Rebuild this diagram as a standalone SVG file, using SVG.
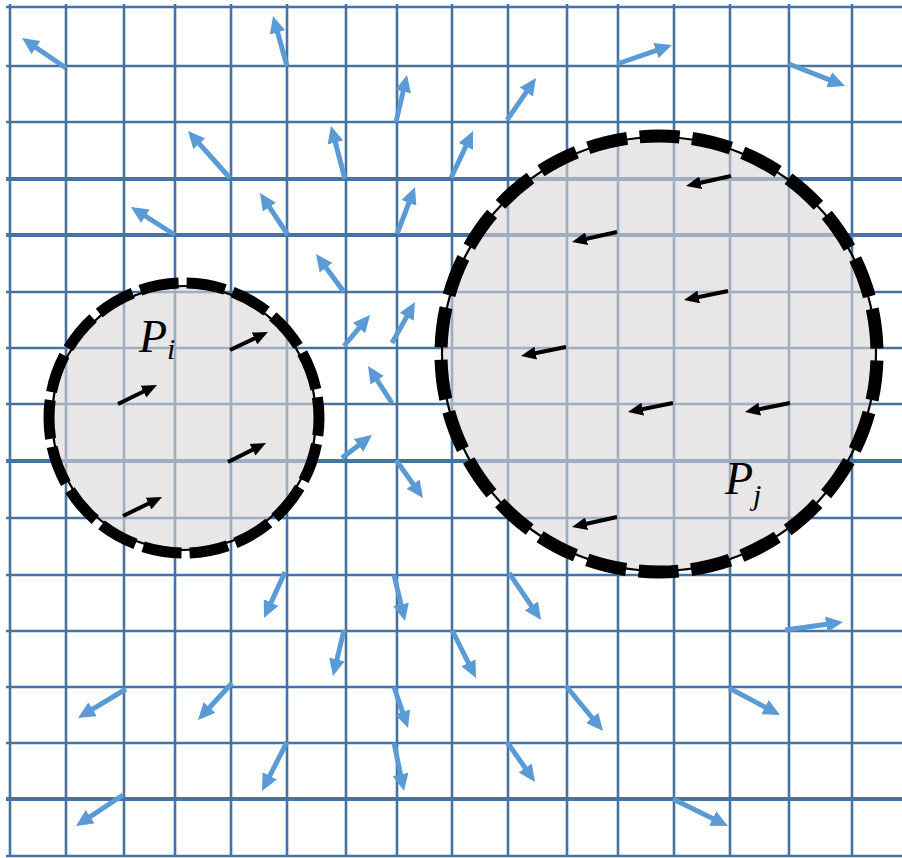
<svg xmlns="http://www.w3.org/2000/svg" width="902" height="858" viewBox="0 0 902 858">
<style>
.g{stroke:#46739f;stroke-width:2.6;fill:none}
.gt{stroke:#46739f;stroke-width:3.8;fill:none}
.ba{stroke:#5b9bd5;stroke-width:5;fill:none;stroke-dasharray:85 100;marker-end:url(#hb)}
.ka{stroke:#000;stroke-width:4;fill:none;stroke-dasharray:80 100;marker-end:url(#hk)}
.fill{fill:#d8d5d6;fill-opacity:0.6;stroke:#000;stroke-width:2.2}
.lbl{font-family:"Liberation Serif","DejaVu Serif",serif;font-style:italic;fill:#000}
</style>
<defs>
<marker id="hb" markerUnits="userSpaceOnUse" viewBox="0 0 17 16" refX="17" refY="8" markerWidth="17" markerHeight="16" orient="auto"><path d="M0,0 L17,8 L0,16 z" fill="#5b9bd5"/></marker>
<marker id="hk" markerUnits="userSpaceOnUse" viewBox="0 0 15 13" refX="15" refY="6.5" markerWidth="15" markerHeight="13" orient="auto"><path d="M0,0 L15,6.5 L0,13 z" fill="#000"/></marker>
</defs>
<rect width="902" height="858" fill="#fff"/>
<g id="grid">
<path class="g" d="M10,4V857 M66,4V857 M124,4V857 M175,4V857 M231,4V857 M287,4V857 M346,4V857 M397,4V857 M452,4V857 M508,4V857 M567,4V857 M618,4V857 M674,4V857 M730,4V857 M789,4V857 M852,4V857"/>
<path class="g" d="M6,7H902 M6,66H902 M6,122H902 M6,292H902 M6,348H902 M6,404H902 M6,518H902 M6,575H902 M6,631H902 M6,687H902 M6,743H902 M6,856H902"/>
<path class="gt" d="M6,179H902 M6,235H902 M6,461H902 M6,799H902"/>
</g>
<g id="node-Pi">
<circle class="fill" cx="184" cy="418" r="132"/>
<circle cx="184" cy="418" r="135" fill="none" stroke="#000" stroke-width="11" stroke-dasharray="39 8.12" stroke-dashoffset="-26"/>
<text class="lbl" x="139" y="352" font-size="46">P<tspan font-size="30" dy="7">i</tspan></text>
</g>
<g id="node-Pj">
<circle class="fill" cx="659" cy="354" r="217"/>
<circle cx="659" cy="354" r="218" fill="none" stroke="#000" stroke-width="13" stroke-dasharray="40 12.68" stroke-dashoffset="-6.6"/>
<text class="lbl" x="725" y="494" font-size="46">P<tspan font-size="30" dy="11">j</tspan></text>
</g>
<g id="connectors">
<g id="field">
<path class="ba" pathLength="100" d="M66,68L22,38"/>
<path class="ba" pathLength="100" d="M287,66L273,16"/>
<path class="ba" pathLength="100" d="M230,178L188,131"/>
<path class="ba" pathLength="100" d="M345,179L331,126"/>
<path class="ba" pathLength="100" d="M396,122L407,75"/>
<path class="ba" pathLength="100" d="M451,178L473,131"/>
<path class="ba" pathLength="100" d="M507,120L536,78"/>
<path class="ba" pathLength="100" d="M617,64L672,45"/>
<path class="ba" pathLength="100" d="M789,64L845,86"/>
<path class="ba" pathLength="100" d="M175,235L131,207"/>
<path class="ba" pathLength="100" d="M288,235L260,193"/>
<path class="ba" pathLength="100" d="M397,234L415,187"/>
<path class="ba" pathLength="100" d="M344,292L316,254"/>
<path class="ba" pathLength="100" d="M344,346L370,315"/>
<path class="ba" pathLength="100" d="M392,343L415,302"/>
<path class="ba" pathLength="100" d="M392,403L368,366"/>
<path class="ba" pathLength="100" d="M342,458L372,435"/>
<path class="ba" pathLength="100" d="M396,460L423,498"/>
<path class="ba" pathLength="100" d="M285,572L264,618"/>
<path class="ba" pathLength="100" d="M394,575L405,621"/>
<path class="ba" pathLength="100" d="M344,630L333,676"/>
<path class="ba" pathLength="100" d="M126,689L78,718"/>
<path class="ba" pathLength="100" d="M232,683L198,720"/>
<path class="ba" pathLength="100" d="M394,687L408,728"/>
<path class="ba" pathLength="100" d="M287,742L262,791"/>
<path class="ba" pathLength="100" d="M394,743L404,791"/>
<path class="ba" pathLength="100" d="M123,795L76,826"/>
<path class="ba" pathLength="100" d="M509,573L541,620"/>
<path class="ba" pathLength="100" d="M452,630L476,678"/>
<path class="ba" pathLength="100" d="M566,686L603,731"/>
<path class="ba" pathLength="100" d="M507,742L535,782"/>
<path class="ba" pathLength="100" d="M785,630L843,622"/>
<path class="ba" pathLength="100" d="M729,688L780,715"/>
<path class="ba" pathLength="100" d="M673,799L728,826"/>
</g>
<g id="forces">
<path class="ka" pathLength="100" d="M118,404L157,385"/>
<path class="ka" pathLength="100" d="M230,350L268,332"/>
<path class="ka" pathLength="100" d="M228,462L266,443"/>
<path class="ka" pathLength="100" d="M123,516L162,497"/>
<path class="ka" pathLength="100" d="M731,176L686,186"/>
<path class="ka" pathLength="100" d="M617,232L572,242"/>
<path class="ka" pathLength="100" d="M728,291L684,300"/>
<path class="ka" pathLength="100" d="M566,347L521,356"/>
<path class="ka" pathLength="100" d="M673,403L628,412"/>
<path class="ka" pathLength="100" d="M790,403L745,412"/>
<path class="ka" pathLength="100" d="M617,517L572,527"/>
</g>
</g>
</svg>
